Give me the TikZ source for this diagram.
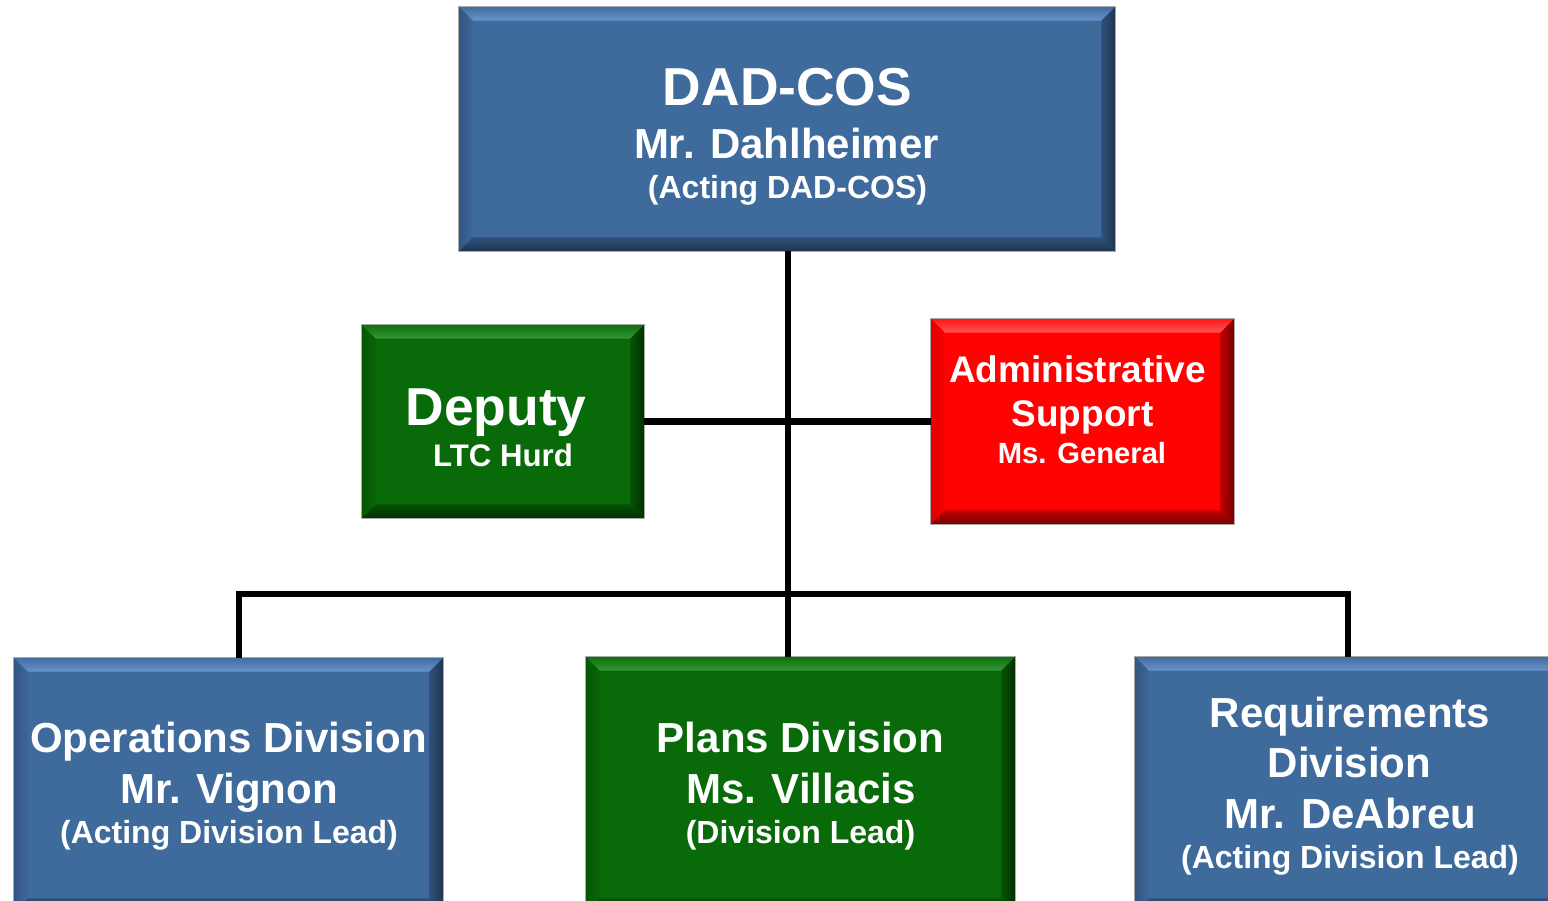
\documentclass[tikz,border=0pt]{standalone}
\usepackage{fontspec}
\setmainfont{Liberation Sans}
\usetikzlibrary{fit}
% blue palette
\definecolor{bluebase}{RGB}{63,106,156}
\definecolor{blueTO}{RGB}{66,108,160}
\definecolor{blueTI}{RGB}{104,148,204}
\definecolor{blueLO}{RGB}{50,86,130}
\definecolor{blueLI}{RGB}{62,102,152}
\definecolor{blueRI}{RGB}{48,80,122}
\definecolor{blueRO}{RGB}{30,52,82}
% green palette
\definecolor{greenbase}{RGB}{8,106,8}
\definecolor{greenTO}{RGB}{12,112,12}
\definecolor{greenTI}{RGB}{54,152,54}
\definecolor{greenLO}{RGB}{6,88,6}
\definecolor{greenLI}{RGB}{8,102,8}
\definecolor{greenRI}{RGB}{4,82,4}
\definecolor{greenRO}{RGB}{0,48,0}
% red palette
\definecolor{redbase}{RGB}{255,2,2}
\definecolor{redTO}{RGB}{255,24,24}
\definecolor{redTI}{RGB}{255,84,84}
\definecolor{redLO}{RGB}{222,0,0}
\definecolor{redLI}{RGB}{246,0,0}
\definecolor{redRI}{RGB}{190,0,0}
\definecolor{redRO}{RGB}{118,0,0}
\definecolor{edgegray}{RGB}{170,170,170}
\newcommand{\bevelbox}[6]{%
  \node[fit={(#2,#3) (#4,#5)}, inner sep=0pt, fill=#6base] (#1) {};
  \shade[top color=#6TO, bottom color=#6TI] (#1.north west) -- (#1.north east) -- ([shift={(-14,14)}]#1.north east) -- ([shift={(14,14)}]#1.north west) -- cycle;
  \shade[left color=#6LO, right color=#6LI] (#1.north west) -- ([shift={(14,14)}]#1.north west) -- ([shift={(14,-14)}]#1.south west) -- (#1.south west) -- cycle;
  \shade[left color=#6RI, right color=#6RO] (#1.north east) -- ([shift={(-14,14)}]#1.north east) -- ([shift={(-14,-14)}]#1.south east) -- (#1.south east) -- cycle;
  \shade[top color=#6RI, bottom color=#6RO] (#1.south west) -- ([shift={(14,-14)}]#1.south west) -- ([shift={(-14,-14)}]#1.south east) -- (#1.south east) -- cycle;
  \draw[edgegray, line width=0.5pt] (#1.north west) rectangle (#1.south east);
}
\tikzset{
  txt/.style={text=white, font=\bfseries, anchor=base, inner sep=0pt},
  big/.style={font=\fontsize{26.7}{32}\selectfont\bfseries},
  mid/.style={font=\fontsize{21}{25}\selectfont\bfseries},
  adm/.style={font=\fontsize{18.5}{22}\selectfont\bfseries},
  sml/.style={font=\fontsize{16}{19}\selectfont\bfseries},
  xsml/.style={font=\fontsize{14.6}{18}\selectfont\bfseries},
  dep/.style={font=\fontsize{15.6}{18}\selectfont\bfseries},
  conn/.style={line width=3.2pt, black}
}
\begin{document}
\begin{tikzpicture}[x=0.5pt, y=-0.5pt]
\useasboundingbox (0,0) rectangle (1548,900);
\clip (0,0) rectangle (1548,900);
\fill[white] (0,0) rectangle (1548,900);

\coordinate (busL) at (239,594);
\coordinate (busR) at (1348,594);
\coordinate (spine) at (788,594);

\bevelbox{top}{459}{7}{1115}{251}{blue}
\bevelbox{deputy}{362}{325}{644}{518}{green}
\bevelbox{admin}{931}{319}{1234}{524}{red}
\bevelbox{ops}{14}{658}{443}{912}{blue}
\bevelbox{plans}{586}{657}{1015}{912}{green}
\bevelbox{req}{1135}{657}{1565}{912}{blue}

\draw[conn] (top.south -| spine) -- (spine |- plans.north);
\draw[conn] (deputy.east) -- (admin.west);
\draw[conn] (busL |- ops.north) -- (busL) -- (busR) -- (busR |- req.north);

\node[txt, big] (topA) at (787.5,105) {DAD-COS};
\node[txt, mid] (topB) at (786.5,158) {Mr. Dahlheimer};
\node[txt, sml] (topC) at (787.5,198) {(Acting DAD-COS)};

\node[txt, big] (depA) at (496,425) {Deputy};
\node[txt, dep] (depB) at (503,466) {LTC Hurd};

\node[txt, adm] (admA) at (1077.5,382) {Administrative};
\node[txt, adm] (admB) at (1082.5,426) {Support};
\node[txt, xsml] (admC) at (1082,463) {Ms. General};

\node[txt, mid] (opsA) at (228.5,752) {Operations Division};
\node[txt, mid] (opsB) at (229,803) {Mr. Vignon};
\node[txt, sml] (opsC) at (229,843) {(Acting Division Lead)};

\node[txt, mid] (plA) at (800.5,752) {Plans Division};
\node[txt, mid] (plB) at (801,803) {Ms. Villacis};
\node[txt, sml] (plC) at (800.5,843) {(Division Lead)};

\node[txt, mid] (rqA) at (1350,727) {Requirements};
\node[txt, mid] (rqB) at (1349.5,777) {Division};
\node[txt, mid] (rqC) at (1350.5,828) {Mr. DeAbreu};
\node[txt, sml] (rqD) at (1350,868) {(Acting Division Lead)};
\end{tikzpicture}
\end{document}
